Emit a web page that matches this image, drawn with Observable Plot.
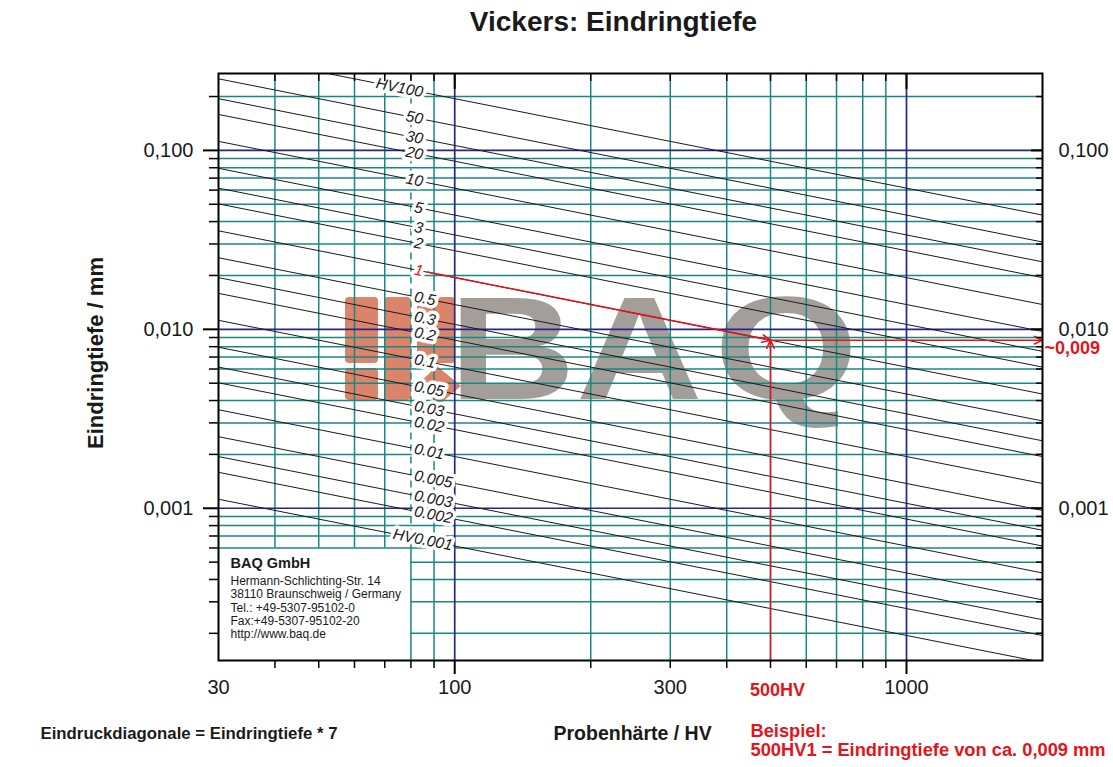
<!DOCTYPE html>
<html><head><meta charset="utf-8">
<script src="https://cdn.jsdelivr.net/npm/d3@7"></script>
<script src="https://cdn.jsdelivr.net/npm/@observablehq/plot@0.6"></script>
<style>
body{margin:0;background:#fff;}
#wrap{position:relative;width:1113px;height:767px;overflow:hidden;}
#wm{position:absolute;left:0;top:0;}
#chart{position:absolute;left:0;top:0;}
</style></head><body>
<div id="wrap">
<svg id="wm" width="1113" height="767">
  <g fill="#dc836c">
    <rect x="345" y="297" width="33" height="66" rx="4"/>
    <rect x="345" y="368" width="33" height="32" rx="4"/>
    <rect x="384" y="297" width="27" height="103" rx="4"/>
    <rect x="417" y="297" width="38" height="66" rx="4"/>
    <path d="M437,366 L461,386 L440,404 L416,386 Z"/>
  </g>
  <g font-family="Liberation Sans, Arial, sans-serif" font-weight="bold" font-size="146" fill="#a49e9b">
    <text transform="translate(449,399) scale(1.2,1)">B</text>
    <text transform="translate(576,399) scale(1.2,1)">A</text>
    <text transform="translate(714,399) scale(1.27,1)">Q</text>
  </g>
</svg>
<div id="chart"></div>
</div>
<script>
// ---- data ----
const loads = [100, 50, 30, 20, 10, 5, 3, 2, 1, 0.5, 0.3, 0.2, 0.1, 0.05, 0.03, 0.02, 0.01, 0.005, 0.003, 0.002, 0.001];
const loadLabels = ["HV100","50","30","20","10","5","3","2","1","0.5","0.3","0.2","0.1","0.05","0.03","0.02","0.01","0.005","0.003","0.002","HV0.001"];
// indentation depth (mm) read at HV 30 and at HV 2000 for each load line
const depthAt30 = [0.3552, 0.2512, 0.1945, 0.1588, 0.1123, 0.07942, 0.06152, 0.05023, 0.03552, 0.02512, 0.01945, 0.01588, 0.01123, 0.007942, 0.006152, 0.005023, 0.003552, 0.002512, 0.001945, 0.001588, 0.001123];
const depthAt2000 = [0.04350, 0.03076, 0.02383, 0.01945, 0.01376, 0.009727, 0.007534, 0.006152, 0.004350, 0.003076, 0.002383, 0.001945, 0.001376, 0.0009727, 0.0007534, 0.0006152, 0.000435, 0.0003076, 0.0002383, 0.0001945, 0.0001376];
// depth where each label sits (at HV 85)
const labelDepth = [0.2110, 0.1492, 0.1156, 0.09436, 0.06672, 0.04718, 0.03655, 0.02984, 0.02110, 0.01492, 0.01156, 0.009436, 0.006672, 0.004718, 0.003655, 0.002984, 0.002110, 0.001492, 0.001156, 0.0009436, 0.0006672];
const labelHV = 85;

const xDomain = [30, 2000];
const yDomain = [0.000141, 0.269];
const hvGridShort = [40, 50, 60, 70];
const hvGridDashed = [80];
const hvGrid = [90, 200, 300, 400, 500, 600, 700, 800, 900];
const hvMajor = [100, 1000];
const hvTickLabels = [30, 100, 300, 1000];
const depthGrid = [0.2, 0.09, 0.08, 0.07, 0.06, 0.05, 0.04, 0.03, 0.02, 0.009, 0.008, 0.007, 0.006, 0.005, 0.004, 0.003, 0.002, 0.0009, 0.0008, 0.0007, 0.0006];
const depthGridShort = [0.0005, 0.0004, 0.0003, 0.0002];
const depthMajor = [0.1, 0.01, 0.001];
const depthTickText = {0.1: "0,100", 0.01: "0,010", 0.001: "0,001"};
const boxTopDepth = 0.0006, boxRightHV = 80;
// example: 500 HV, load 1
const exampleHV = 500, exampleDepth = 0.0087, exampleStartHV = 87, exampleStartDepth = 0.0209;
const addressTitle = "BAQ GmbH";
const addressLines = ["Hermann-Schlichting-Str. 14", "38110 Braunschweig / Germany", "Tel.: +49-5307-95102-0", "Fax:+49-5307-95102-20", "http://www.baq.de"];

// ---- build ----
const red = "#e3141b", teal = "#17897f", navy = "#25258f", ink = "#1a1a1a";
const font = "Liberation Sans, Arial, sans-serif";
const lines = loads.map((load, i) => {
  const lab = loadLabels[i], k = lab.indexOf(".");
  return {load, d30: depthAt30[i], d2000: depthAt2000[i], dl: labelDepth[i],
          a: k < 0 ? lab : lab.slice(0, k), b: k < 0 ? "" : lab.slice(k)};
});
const fracs = lines.filter(d => d.b);
const labelBase = {x: () => labelHV, y: "dl", rotate: 11.2, fontSize: 15.5, fontStyle: "italic", lineAnchor: "middle", fontFamily: font};
const noText = () => "";

const chart = Plot.plot({
  width: 1113, height: 767,
  marginTop: 73, marginBottom: 107, marginLeft: 218, marginRight: 71,
  x: {type: "log", domain: xDomain},
  y: {type: "log", domain: yDomain},
  style: {background: "transparent", fontFamily: font, overflow: "visible"},
  marks: [
    // grid
    Plot.ruleX(hvGridShort, {x: d => d, y1: boxTopDepth, y2: yDomain[1], stroke: teal, strokeWidth: 1.5}),
    Plot.ruleX(hvGridDashed, {x: d => d, y1: yDomain[0], y2: boxTopDepth, stroke: teal, strokeWidth: 1.5}),
    Plot.ruleX(hvGridDashed, {x: d => d, y1: boxTopDepth, y2: yDomain[1], stroke: teal, strokeWidth: 1.5, strokeDasharray: "7,5"}),
    Plot.ruleX(hvGrid, {x: d => d, stroke: teal, strokeWidth: 1.5}),
    Plot.ruleY(depthGrid, {y: d => d, stroke: teal, strokeWidth: 1.5}),
    Plot.ruleY(depthGridShort, {y: d => d, x1: boxRightHV, x2: xDomain[1], stroke: teal, strokeWidth: 1.5}),
    Plot.ruleX(hvMajor, {x: d => d, stroke: navy, strokeWidth: 1.7}),
    Plot.ruleY(depthMajor, {y: d => d, stroke: navy, strokeWidth: 1.7}),
    // load lines
    Plot.link(lines, {x1: () => xDomain[0], x2: () => xDomain[1], y1: "d30", y2: "d2000", stroke: ink, strokeWidth: 1, clip: true}),
    // example
    Plot.arrow([0], {x1: () => exampleStartHV, y1: () => exampleStartDepth, x2: () => exampleHV, y2: () => exampleDepth, stroke: red, strokeWidth: 1.5, headLength: 9, headAngle: 50, bend: 0}),
    Plot.arrow([0], {x1: () => exampleHV, y1: () => exampleDepth, x2: () => xDomain[1], y2: () => exampleDepth, stroke: red, strokeWidth: 1.5, headLength: 9, headAngle: 50, bend: 0}),
    Plot.arrow([0], {x1: () => exampleHV, y1: () => yDomain[0], x2: () => exampleHV, y2: () => exampleDepth, stroke: red, strokeWidth: 1.5, headLength: 9, headAngle: 50, bend: 0}),
    // labels with halos
    Plot.text(lines, {...labelBase, text: "a", textAnchor: "end", fill: "white", stroke: "white", strokeWidth: 7}),
    Plot.text(fracs, {...labelBase, text: "b", textAnchor: "start", fill: "white", stroke: "white", strokeWidth: 7}),
    Plot.text(lines, {...labelBase, text: "a", textAnchor: "end", fill: d => d.load === 1 ? red : ink}),
    Plot.text(fracs, {...labelBase, text: "b", textAnchor: "start", fill: ink}),
    // ticks
    Plot.axisX({anchor: "bottom", ticks: [...hvGridShort, ...hvGridDashed, ...hvGrid], tickSize: 8, tickFormat: noText, label: null, strokeWidth: 1.5}),
    Plot.axisX({anchor: "bottom", ticks: hvMajor, tickSize: 14, tickFormat: noText, label: null, strokeWidth: 2}),
    Plot.axisX({anchor: "top", ticks: [...hvGridShort, ...hvGridDashed, ...hvGrid], tickSize: -7, tickFormat: noText, label: null, strokeWidth: 1.5}),
    Plot.axisX({anchor: "top", ticks: hvMajor, tickSize: -15, tickFormat: noText, label: null, strokeWidth: 2}),
    Plot.axisY({anchor: "left", ticks: [...depthGrid, ...depthGridShort], tickSize: 9, tickFormat: noText, label: null, strokeWidth: 1.5}),
    Plot.axisY({anchor: "left", ticks: depthMajor, tickSize: 15, tickFormat: noText, label: null, strokeWidth: 2}),
    Plot.axisY({anchor: "right", ticks: [...depthGrid, ...depthGridShort], tickSize: -7, tickFormat: noText, label: null, strokeWidth: 1.5}),
    Plot.axisY({anchor: "right", ticks: depthMajor, tickSize: -12, tickFormat: noText, label: null, strokeWidth: 2}),
    // tick labels
    Plot.axisX({anchor: "bottom", ticks: hvTickLabels, tickSize: 0, tickPadding: 19, tickFormat: d => String(d), label: null, fontSize: 20, fill: ink}),
    Plot.text([exampleHV], {x: d => d, frameAnchor: "bottom", dy: 30, dx: 7, text: d => d + "HV", fill: red, fontWeight: "bold", fontSize: 18, lineAnchor: "middle"}),
    Plot.axisY({anchor: "left", ticks: depthMajor, tickSize: 0, tickPadding: 25, tickFormat: d => depthTickText[d], label: null, fontSize: 20, fill: ink}),
    Plot.axisY({anchor: "right", ticks: depthMajor, tickSize: 0, tickPadding: 16, tickFormat: d => depthTickText[d], label: null, fontSize: 20, fill: ink}),
    Plot.text([exampleDepth], {y: d => d, frameAnchor: "right", textAnchor: "start", dx: 2, dy: 8, text: () => "~0,009", fill: red, fontWeight: "bold", fontSize: 18, lineAnchor: "middle"}),
    Plot.frame({stroke: "black", strokeWidth: 2}),
    // address box
    Plot.text([addressTitle], {frameAnchor: "bottom-left", dx: 12, dy: -97, textAnchor: "start", lineAnchor: "middle", fontWeight: "bold", fontSize: 14.5, fill: ink}),
    Plot.text([addressLines.join("\n")], {frameAnchor: "bottom-left", dx: 12, dy: -53, textAnchor: "start", lineAnchor: "middle", fontSize: 12, lineHeight: 1.11, fill: ink}),
    // titles
    Plot.text(["Vickers: Eindringtiefe"], {frameAnchor: "top", dx: -17, dy: -51, lineAnchor: "middle", fontWeight: "bold", fontSize: 28, fill: ink}),
    Plot.text(["Eindringtiefe / mm"], {frameAnchor: "left", textAnchor: "middle", dx: -123, dy: -14, rotate: -90, lineAnchor: "middle", fontWeight: "bold", fontSize: 22, fill: ink}),
    Plot.text(["Eindruckdiagonale = Eindringtiefe * 7"], {frameAnchor: "bottom-left", dx: 40 - 218, dy: 73, textAnchor: "start", lineAnchor: "middle", fontWeight: "bold", fontSize: 16.8, fill: ink}),
    Plot.text(["Probenhärte / HV"], {frameAnchor: "bottom-left", dx: 553 - 218, dy: 73, textAnchor: "start", lineAnchor: "middle", fontWeight: "bold", fontSize: 19.5, fill: ink}),
    Plot.text(["Beispiel:\n500HV1 = Eindringtiefe von ca. 0,009 mm"], {frameAnchor: "bottom-left", dx: 750 - 218, dy: 73 - 10, textAnchor: "start", lineAnchor: "top", fontWeight: "bold", fontSize: 18.3, lineHeight: 1.05, fill: red})
  ]
});
document.getElementById("chart").appendChild(chart);
</script>
</body></html>
